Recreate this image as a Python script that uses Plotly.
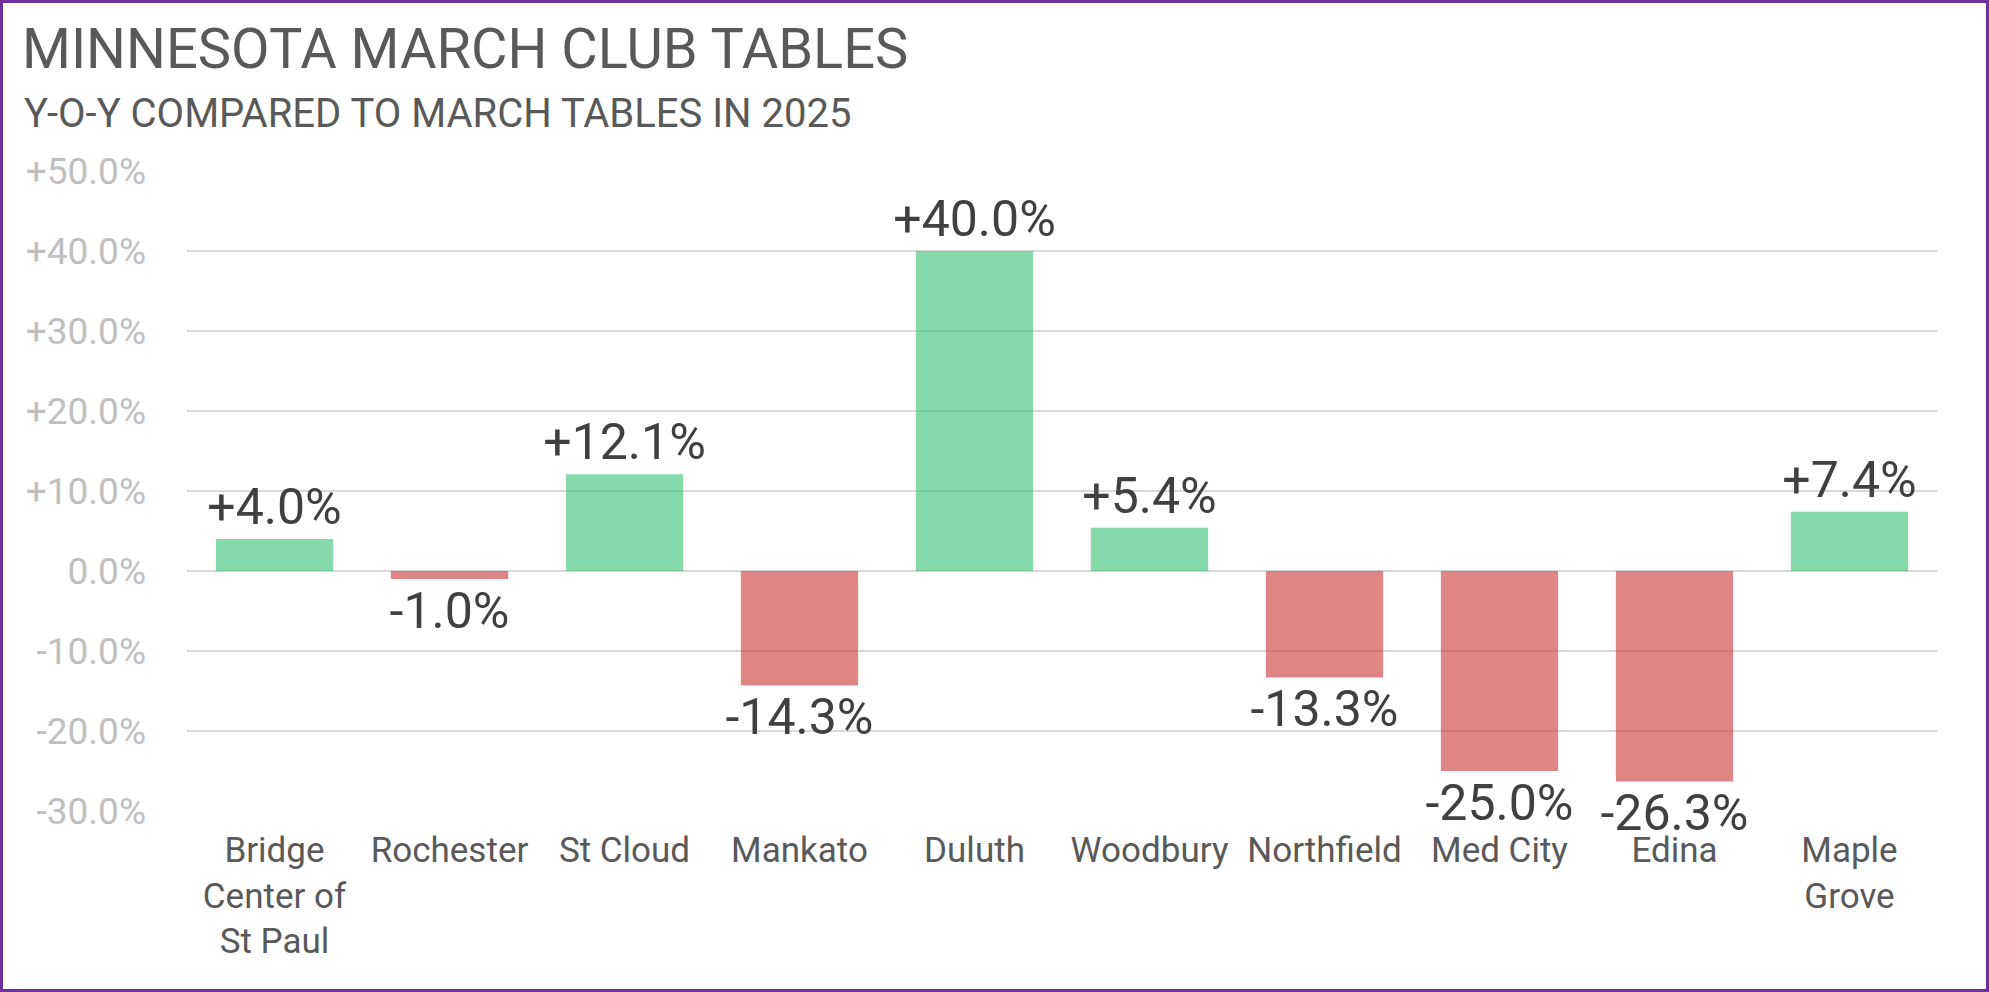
import plotly.graph_objects as go

# club tables, March y-o-y change (%)
clubs = ["Bridge<br>Center of<br>St Paul", "Rochester", "St Cloud", "Mankato", "Duluth",
         "Woodbury", "Northfield", "Med City", "Edina", "Maple<br>Grove"]
change = [4.0, -1.0, 12.1, -14.3, 40.0, 5.4, -13.3, -25.0, -26.3, 7.4]

tick_vals = [50, 40, 30, 20, 10, 0, -10, -20, -30]
tick_text = ["+50.0%", "+40.0%", "+30.0%", "+20.0%", "+10.0%", "0.0%",
             "-10.0%", "-20.0%", "-30.0%"]

FONT = "Roboto, sans-serif"
UP = "rgba(47,190,110,0.58)"
DOWN = "rgba(203,52,52,0.6)"

W, H = 1989, 992
L, R, T, B = 187, 52, 171, 181
pw, ph = W - L - R, H - T - B

fig = go.Figure()
fig.add_trace(go.Bar(
    x=clubs,
    y=change,
    marker=dict(color=[UP if v >= 0 else DOWN for v in change], line=dict(width=0)),
    text=[f"{v:+.1f}%" for v in change],
    texttemplate="%{text}",
    textposition="outside",
    textfont=dict(family=FONT, size=50, color="#404040"),
    constraintext="none",
    cliponaxis=False,
    showlegend=False,
))

fig.update_layout(
    width=W, height=H,
    margin=dict(l=L, r=R, t=T, b=B),
    paper_bgcolor="white",
    plot_bgcolor="white",
    bargap=0.33,
    font=dict(family=FONT, color="#595959"),
    title=dict(
        text="MINNESOTA MARCH CLUB TABLES",
        font=dict(family=FONT, size=56, color="#595959"),
        xref="container", x=22 / W, xanchor="left",
        yref="container", y=1 - 48 / H, yanchor="middle",
    ),
    xaxis=dict(
        tickfont=dict(family=FONT, size=35, color="#595959"),
        showgrid=False, showline=False, ticks="",
        ticklabelstandoff=15,
    ),
    yaxis=dict(
        range=[-30, 50],
        tickvals=tick_vals, ticktext=tick_text,
        tickfont=dict(family=FONT, size=37, color="#BFBFBF"),
        showgrid=True, gridcolor="#D9D9D9", gridwidth=2,
        zeroline=True, zerolinecolor="#D9D9D9", zerolinewidth=2,
        showline=False, ticks="", ticklabelstandoff=40,
    ),
    annotations=[dict(
        text="Y-O-Y COMPARED TO MARCH TABLES IN 2025",
        xref="paper", yref="paper",
        x=(22 - L) / pw, xanchor="left",
        y=(H - B - 113) / ph, yanchor="middle",
        showarrow=False,
        font=dict(family=FONT, size=40, color="#595959"),
    )],
    shapes=[dict(
        type="rect", xref="paper", yref="paper",
        x0=(-L + 1.5) / pw, x1=1 + (R - 1.5) / pw,
        y0=(-B + 1.5) / ph, y1=1 + (T - 1.5) / ph,
        line=dict(color="#7030A0", width=3),
        fillcolor="rgba(0,0,0,0)",
    )],
)

# drop the page's default body margin so the figure sits at the window's corner
fig.write_html("out.html", config={"displayModeBar": False},
               post_script="document.body.style.margin='0';document.body.style.overflow='hidden';")
